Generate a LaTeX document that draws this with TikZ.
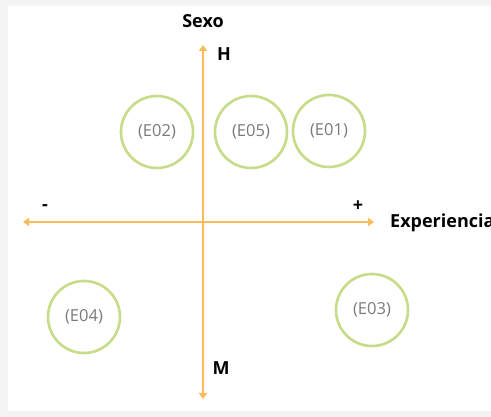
\documentclass[tikz,border=0pt]{standalone}
\usepackage{fontspec}
\setmainfont{Open Sans}
\usetikzlibrary{arrows.meta}
\definecolor{axisorange}{HTML}{F9BA58}
\definecolor{ringgreen}{HTML}{C6DC88}
\definecolor{labelgray}{HTML}{7A7A7A}
\definecolor{pagegray}{HTML}{F4F4F4}
\tikzset{
  axis/.style={draw=axisorange, line width=2.4pt, {Triangle[length=6pt,width=8pt]}-{Triangle[length=6pt,width=8pt]}},
  ring/.style={circle, draw=ringgreen, line width=2.6pt, minimum size=72pt, inner sep=0pt,
    text=labelgray, font=\fontsize{16.5}{18}\selectfont},
  axislabel/.style={font=\fontsize{18}{20}\selectfont\bfseries, text=black, inner sep=0pt}
}
\begin{document}
\begin{tikzpicture}[x=1pt,y=-1pt]
  \useasboundingbox (0,0) rectangle (491,417);
  \clip (0,0) rectangle (491,417);
  \fill[pagegray] (0,0) rectangle (491,417);
  \fill[white] (8,6) rectangle (491,411);

  % axis end points
  \coordinate (top) at (203,45);
  \coordinate (bottom) at (203,399);
  \coordinate (left) at (23,222);
  \coordinate (right) at (374,222);

  \draw[axis] (bottom) -- (top);
  \draw[axis] (left) -- (right);

  % axis labels
  \node[axislabel] (sexo) at (203,21) {Sexo};
  \node[axislabel] (hombre) at (224,54) {H};
  \node[axislabel] (mujer) at (221,368) {M};
  \node[axislabel] (menos) at (45,208) {-};
  \node[axislabel] (mas) at (358,206) {+};
  \node[axislabel, anchor=west] (exp) at (390,223) {Experiencia};

  % individuals
  \node[ring] (e02) at (157,132) {(E02)};
  \node[ring] (e05) at (251,132) {(E05)};
  \node[ring] (e01) at (329,131) {(E01)};
  \node[ring] (e04) at (84,317) {(E04)};
  \node[ring] (e03) at (372,310) {(E03)};
\end{tikzpicture}
\end{document}
